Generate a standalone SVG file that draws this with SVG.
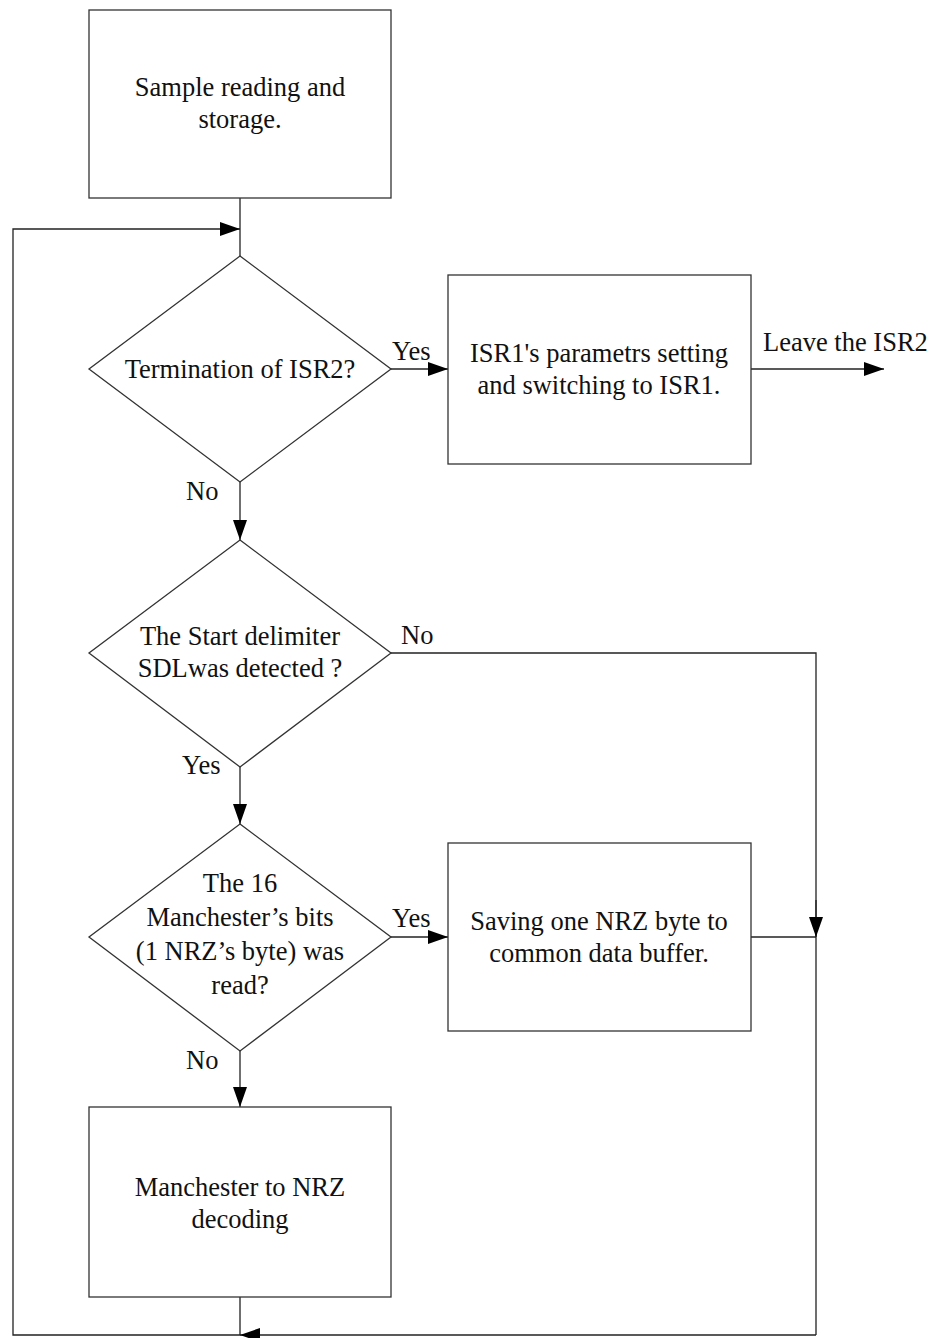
<svg xmlns="http://www.w3.org/2000/svg" width="931" height="1338" viewBox="0 0 931 1338">
  <style>
    .shape { fill: #ffffff; stroke: #333333; stroke-width: 1.3; }
    .wire { fill: none; stroke: #222222; stroke-width: 1.3; }
    .label { font-family: "Liberation Serif", "Times New Roman", serif; font-size: 26.5px; fill: #111111; }
    .mid { text-anchor: middle; }
  </style>
  <defs>
    <marker id="arrow" viewBox="0 0 20 14" refX="20" refY="7" markerWidth="20" markerHeight="14" markerUnits="userSpaceOnUse" orient="auto">
      <path d="M0,0 L20,7 L0,14 Z" fill="#000000"/>
    </marker>
  </defs>

  <!-- connectors -->
  <g id="connectors">
    <!-- entry from sample box into first decision -->
    <line class="wire" x1="240" y1="198" x2="240" y2="256"/>
    <!-- loop back-edge into main line -->
    <polyline class="wire" points="240,1297 240,1335 13,1335 13,229 240,229" marker-end="url(#arrow)"/>
    <!-- Termination: Yes -->
    <line class="wire" x1="391" y1="369" x2="448" y2="369" marker-end="url(#arrow)"/>
    <!-- leave ISR2 -->
    <line class="wire" x1="751" y1="369" x2="884" y2="369" marker-end="url(#arrow)"/>
    <!-- Termination: No -->
    <line class="wire" x1="240" y1="482" x2="240" y2="540" marker-end="url(#arrow)"/>
    <!-- SDL detected: No -->
    <polyline class="wire" points="391,653 816,653 816,1335"/>
    <line class="wire" x1="816" y1="900" x2="816" y2="937" marker-end="url(#arrow)"/>
    <!-- return path along the bottom -->
    <line class="wire" x1="816" y1="1335" x2="240" y2="1335" marker-end="url(#arrow)"/>
    <!-- SDL detected: Yes -->
    <line class="wire" x1="240" y1="767" x2="240" y2="824" marker-end="url(#arrow)"/>
    <!-- 16 bits read: Yes -->
    <line class="wire" x1="391" y1="937" x2="448" y2="937" marker-end="url(#arrow)"/>
    <!-- saving box into right rail -->
    <line class="wire" x1="751" y1="937" x2="816" y2="937"/>
    <!-- 16 bits read: No -->
    <line class="wire" x1="240" y1="1051" x2="240" y2="1107" marker-end="url(#arrow)"/>

    <text class="label" x="392" y="360">Yes</text>
    <text class="label" x="763" y="351">Leave the ISR2</text>
    <text class="label" x="186" y="500">No</text>
    <text class="label" x="401" y="644">No</text>
    <text class="label" x="182" y="774">Yes</text>
    <text class="label" x="392" y="927">Yes</text>
    <text class="label" x="186" y="1069">No</text>
  </g>

  <g id="sample-reading">
    <rect class="shape" x="89" y="10" width="302" height="188"/>
    <text class="label mid" x="240" y="96">Sample reading and</text>
    <text class="label mid" x="240" y="128">storage.</text>
  </g>

  <g id="termination-check">
    <polygon class="shape" points="240,256 391,369 240,482 89,369"/>
    <text class="label mid" x="240" y="378">Termination of ISR2?</text>
  </g>

  <g id="isr1-setup">
    <rect class="shape" x="448" y="275" width="303" height="189"/>
    <text class="label mid" x="599" y="362">ISR1's parametrs setting</text>
    <text class="label mid" x="599" y="394">and switching to ISR1.</text>
  </g>

  <g id="sdl-check">
    <polygon class="shape" points="240,540 391,653 240,767 89,653"/>
    <text class="label mid" x="240" y="645">The Start delimiter</text>
    <text class="label mid" x="240" y="677">SDLwas detected ?</text>
  </g>

  <g id="byte-check">
    <polygon class="shape" points="240,824 391,937 240,1051 89,937"/>
    <text class="label mid" x="240" y="892">The 16</text>
    <text class="label mid" x="240" y="926">Manchester’s bits</text>
    <text class="label mid" x="240" y="960">(1 NRZ’s byte) was</text>
    <text class="label mid" x="240" y="994">read?</text>
  </g>

  <g id="save-byte">
    <rect class="shape" x="448" y="843" width="303" height="188"/>
    <text class="label mid" x="599" y="930">Saving one NRZ byte to</text>
    <text class="label mid" x="599" y="962">common data buffer.</text>
  </g>

  <g id="manchester-decode">
    <rect class="shape" x="89" y="1107" width="302" height="190"/>
    <text class="label mid" x="240" y="1196">Manchester to NRZ</text>
    <text class="label mid" x="240" y="1228">decoding</text>
  </g>
</svg>
